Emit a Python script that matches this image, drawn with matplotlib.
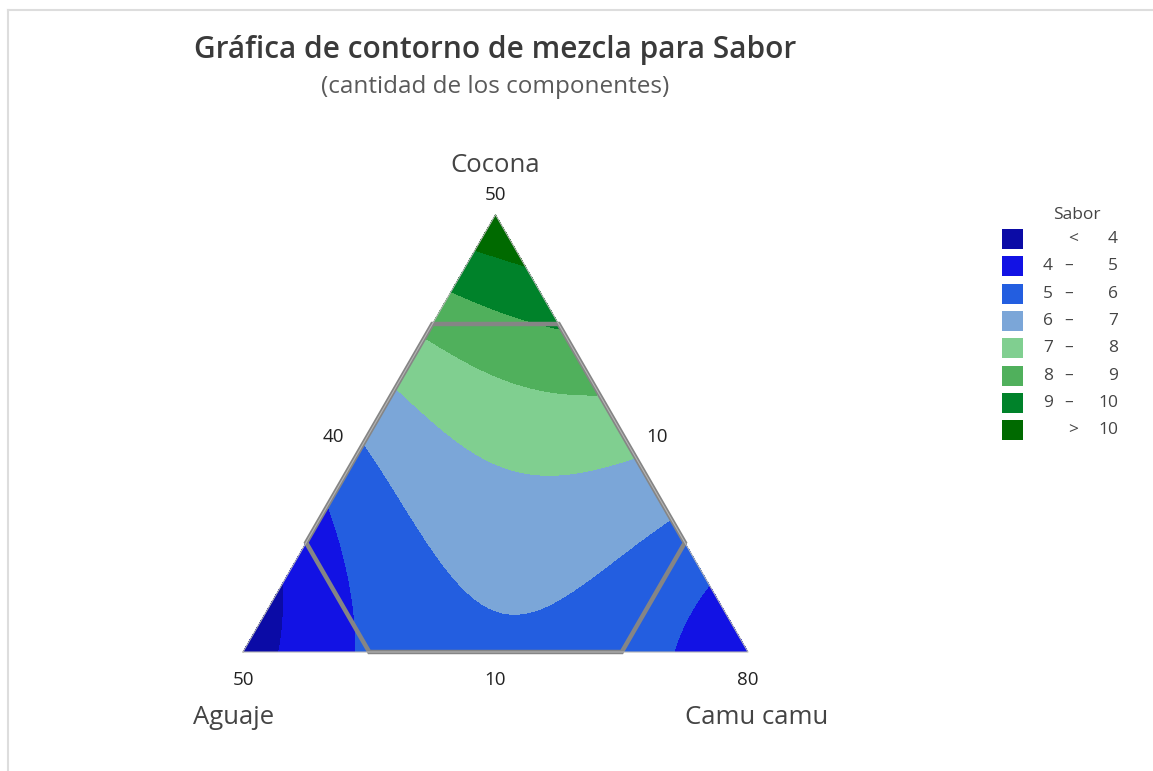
import numpy as np
import matplotlib
matplotlib.use("Agg")
from matplotlib import pyplot as plt
from matplotlib.tri import Triangulation
from matplotlib.patches import Rectangle, Polygon
from matplotlib.lines import Line2D

plt.rcParams['font.family'] = ['Open Sans', 'DejaVu Sans']

# mezclas (cantidades) y su valor de Sabor
aguaje = [50, 10, 10, 12.9, 11.6, 10.2, 16.9, 13.6, 10.3, 21.0, 20.4, 18.6, 15.2, 10.5,
          25.6, 24.2, 21.9, 17.3, 10.3, 30.9, 30.6, 30.0, 28.6, 26.3, 23.7, 18.3, 10.4,
          29.2, 20.6, 27.6,
          36.8, 38.6, 41.3, 10.0, 13.0, 16.0, 43.5, 45.3, 46.8, 30.0, 23.3,
          36.8, 16.2, 24.3]
cocona = [10, 50, 10, 46.8, 46.2, 45.4, 43.0, 41.4, 39.6, 38.7, 36.4, 34.7, 33.7, 33.5,
          34.0, 31.5, 28.2, 26.8, 27.6, 29.0, 23.9, 19.6, 14.5, 13.1, 13.7, 16.6, 21.8,
          16.6, 15.3, 13.4,
          23.0, 16.6, 10.0, 16.3, 13.6, 10.0, 16.3, 12.9, 10.0, 10.0, 23.3,
          14.8, 14.8, 17.5]
camu = [40, 40, 80, 40.3, 42.3, 44.4, 40.1, 45.0, 50.0, 40.3, 43.2, 46.6, 51.1, 56.0,
        40.4, 44.3, 49.9, 55.9, 62.1, 40.2, 45.5, 50.4, 56.9, 60.5, 62.6, 65.1, 67.8,
        54.2, 64.0, 59.1,
        40.2, 44.8, 48.7, 73.7, 73.5, 74.0, 40.2, 41.8, 43.2, 60.0, 53.3,
        48.5, 69.1, 58.2]
sabor = [3.5, 11.0, 4.3, 10, 10, 10, 9, 9, 9, 8, 8, 8, 8, 8,
         7, 7, 7, 7, 7, 6, 6, 6, 6, 6, 6, 6, 6,
         6, 6, 6,
         5, 5, 5, 5, 5, 5, 4, 4, 4, 5.8, 6.5,
         5.4, 5.5, 6.3]

minimos = [10, 10, 40]      # Aguaje, Cocona, Camu camu
maximos = [50, 50, 80]
limites = [40, 40, 70]      # region restringida (hexagono)
etiq_lados = ["40", "10", "10"]   # izquierda, derecha, abajo

niveles = [4, 5, 6, 7, 8, 9, 10]
leyenda = [("", "<", "4"), ("4", "–", "5"), ("5", "–", "6"), ("6", "–", "7"),
           ("7", "–", "8"), ("8", "–", "9"), ("9", "–", "10"), ("", ">", "10")]
colores = ["#0b0ba6", "#1212e4", "#235ee0", "#7ba6d8", "#80cf90", "#50b05c",
           "#00822a", "#006a00"]

W, H = 1153, 771
fig = plt.figure(figsize=(W / 100, H / 100), dpi=100)
ax = fig.add_axes([0, 0, 1, 1])
ax.set_xlim(-243 / 505, (W - 243) / 505)
ax.set_ylim(-(H - 652) / 505, 652 / 505)
ax.axis('off')

rango = 100 - sum(minimos)
a = np.array(aguaje); c = np.array(cocona); k = np.array(camu)
tot = a + c + k
p2 = (c * 100 / tot - minimos[1]) / rango
p3 = (k * 100 / tot - minimos[2]) / rango


def base(x2, x3, grado=4):
    return np.column_stack([x2 ** i * x3 ** j for i in range(grado + 1)
                            for j in range(grado + 1 - i)])


coef, *_ = np.linalg.lstsq(base(p2, p3), np.array(sabor), rcond=None)

n = 160
g2, g3 = [], []
for i in range(n + 1):
    for j in range(n + 1 - i):
        g2.append(i / n)
        g3.append(j / n)
g2 = np.array(g2); g3 = np.array(g3)
z = base(g2, g3) @ coef

r3 = np.sqrt(3) / 2
tri = Triangulation(g3 + g2 / 2, g2 * r3)
lv = [min(z.min(), 3) - 1] + niveles + [max(z.max(), 11) + 1]
ax.tricontourf(tri, z, levels=lv, colors=colores)
ax.plot([0, 1, 0.5, 0], [0, 0, r3, 0], color="#b5b5b5", lw=0.8)

# hexagono de restricciones
u = [(limites[i] - minimos[i]) / rango for i in range(3)]
hexa = [(u[0], 1 - u[0], 0), (1 - u[1], u[1], 0), (0, u[1], 1 - u[1]),
        (0, 1 - u[2], u[2]), (1 - u[2], 0, u[2]), (u[0], 0, 1 - u[0])]
xy = [(x3 + x2 / 2, x2 * r3) for x1, x2, x3 in hexa]
ax.add_patch(Polygon(xy, closed=True, fill=False, edgecolor="#858585", lw=3.2,
                     joinstyle='miter'))


def txt(x, y, s, **kw):
    fig.text(x / W, 1 - y / H, s, ha=kw.pop('ha', 'center'), va='center', **kw)


txt(495, 50, "Gráfica de contorno de mezcla para Sabor", fontsize=21.5,
    color="#3a3a3a", weight='semibold')
txt(495, 87, "(cantidad de los componentes)", fontsize=17.5, color="#5a5a5a")

txt(495, 166, "Cocona", fontsize=18.5, color="#444444")
txt(234, 718, "Aguaje", fontsize=18.5, color="#444444")
txt(757, 718, "Camu camu", fontsize=18.5, color="#444444")
txt(495, 195, str(maximos[1]), fontsize=13.5, color="#222222")
txt(243, 680, str(maximos[0]), fontsize=13.5, color="#222222")
txt(748, 680, str(maximos[2]), fontsize=13.5, color="#222222")
txt(333, 437, etiq_lados[0], fontsize=13.5, color="#222222")
txt(657, 437, etiq_lados[1], fontsize=13.5, color="#222222")
txt(495, 680, etiq_lados[2], fontsize=13.5, color="#222222")

# leyenda
txt(1077, 215, "Sabor", fontsize=12.5, color="#444444")
for i, (ini, sep, fin) in enumerate(leyenda):
    yc = 239 + i * 27.3
    fig.add_artist(Rectangle((1002 / W, 1 - (yc + 10) / H), 21 / W, 20 / H,
                             transform=fig.transFigure, facecolor=colores[i],
                             edgecolor="none"))
    if ini:
        txt(1053, yc, ini, fontsize=12.5, color="#444444", ha='right')
        txt(1069, yc, sep, fontsize=12.5, color="#444444")
    else:
        txt(1073, yc, sep, fontsize=12.5, color="#444444")
    txt(1118, yc, fin, fontsize=12.5, color="#444444", ha='right')

# marco
fig.add_artist(Line2D([8 / W, 8 / W], [0, 1 - 10 / H], transform=fig.transFigure,
                      color="#dddddd", lw=1.5))
fig.add_artist(Line2D([8 / W, 1], [1 - 10 / H, 1 - 10 / H], transform=fig.transFigure,
                      color="#dddddd", lw=1.5))

fig.savefig("out.png", dpi=100)
